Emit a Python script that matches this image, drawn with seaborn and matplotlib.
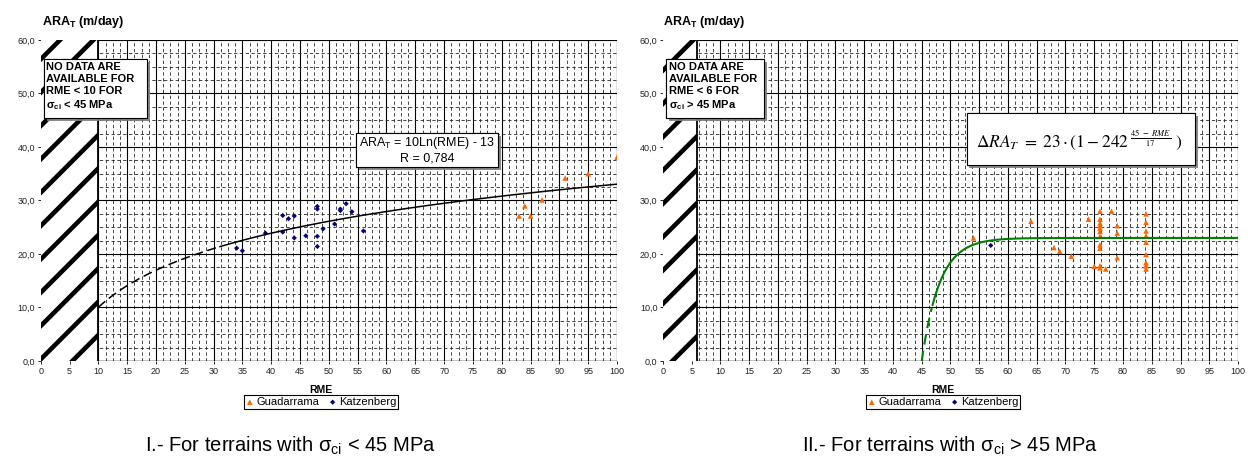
import numpy as np
import pandas as pd
import seaborn as sns
import matplotlib.pyplot as plt
import matplotlib.patheffects as pe
from matplotlib.patches import Rectangle
from matplotlib.ticker import MultipleLocator, FuncFormatter

# chart I (sigma_ci < 45 MPa)
gua1_rme = [83, 84, 85, 87, 91, 95, 100]
gua1_ara = [27.1, 29.0, 27.1, 30.1, 34.2, 35.0, 38.1]
katz1_rme = [34, 35, 39, 42, 42, 43, 44, 44, 46, 48, 48, 48, 48, 49, 51, 52, 52, 53, 54, 56]
katz1_ara = [21.1, 20.6, 23.9, 27.2, 24.1, 26.6, 27.1, 23.0, 23.4, 28.9,
             28.4, 23.3, 21.4, 24.7, 25.6, 28.4, 28.1, 29.4, 27.9, 24.3]

# chart II (sigma_ci > 45 MPa)
gua2_rme = [54, 64, 68, 69, 71, 74, 75,
            76, 76, 76, 76, 76, 76, 76, 76, 76, 76, 76,
            77, 78, 79, 79, 79,
            84, 84, 84, 84, 84, 84, 84, 84, 84]
gua2_ara = [23.0, 26.1, 21.2, 20.5, 19.6, 26.5, 17.7,
            28.0, 26.5, 25.8, 25.3, 24.8, 24.2, 23.3, 21.7, 21.1, 17.8, 17.4,
            17.2, 28.0, 25.3, 23.9, 19.3,
            27.5, 25.9, 24.3, 23.4, 22.2, 19.9, 18.4, 17.8, 17.2]
katz2_rme = [57]
katz2_ara = [21.6]

ORANGE = '#FF6600'
NAVY = '#000080'

sns.set_theme(style='white')
plt.rcParams['font.family'] = ['Liberation Sans', 'DejaVu Sans']
plt.rcParams['text.color'] = 'black'
plt.rcParams['mathtext.fontset'] = 'custom'
plt.rcParams['mathtext.rm'] = 'Liberation Sans'
plt.rcParams['mathtext.it'] = 'Liberation Sans:italic'
plt.rcParams['mathtext.bf'] = 'Liberation Sans:bold'
plt.rcParams['hatch.linewidth'] = 3.3

fig = plt.figure(figsize=(12.48, 4.59), dpi=100)
ax1 = fig.add_axes([0.0326, 0.2135, 0.4618, 0.6994])
ax2 = fig.add_axes([0.5312, 0.2135, 0.4608, 0.6994])

shadow = [pe.withSimplePatchShadow(offset=(2, -2), shadow_rgbFace='0.5', alpha=0.9), pe.Normal()]


def setup(ax, x_start):
    ax.set_xlim(0, 100)
    ax.set_ylim(0, 60)
    ax.xaxis.set_major_locator(MultipleLocator(5))
    ax.xaxis.set_minor_locator(MultipleLocator(1.25))
    ax.yaxis.set_major_locator(MultipleLocator(10))
    ax.yaxis.set_minor_locator(MultipleLocator(2.5))
    ax.yaxis.set_major_formatter(FuncFormatter(lambda v, p: f'{v:.1f}'.replace('.', ',')))
    ax.set_axisbelow(True)
    ax.grid(which='major', color='black', lw=0.8)
    ax.grid(which='minor', color='0.15', lw=0.6, ls=(0, (4, 3)))
    ax.tick_params(which='major', length=2, width=0.6, labelsize=6.5, pad=2,
                   color='black', labelcolor='#222222', bottom=True, left=True)
    ax.tick_params(which='minor', length=0)
    for s in ax.spines.values():
        s.set_visible(False)
    ax.axvspan(0, x_start, facecolor='white', edgecolor='black', hatch='/', lw=0, zorder=2)
    ax.axvline(x_start, color='black', lw=1.3, zorder=2.5)
    ax.axhline(0, xmin=x_start / 100, color='black', lw=1.0, zorder=2.5)
    ax.axvline(100, color='black', lw=0.8, zorder=2.5)
    ax.set_xlabel('')
    ax.set_ylabel('')


def note_box(ax, x0, y0, w, h):
    r = Rectangle((x0, y0), w, h, facecolor='white', edgecolor='black', lw=0.8, zorder=5)
    r.set_path_effects(shadow)
    ax.add_patch(r)


def scatter(ax, gx, gy, kx, ky):
    sns.scatterplot(x=gx, y=gy, ax=ax, marker='^', color=ORANGE, s=16,
                    edgecolor='none', zorder=3, label='Guadarrama')
    sns.scatterplot(x=kx, y=ky, ax=ax, marker='D', color=NAVY, s=7,
                    edgecolor='none', zorder=3, label='Katzenberg')


# ---- chart I
setup(ax1, 10)
scatter(ax1, gua1_rme, gua1_ara, katz1_rme, katz1_ara)
x_fit = np.linspace(10, 100, 300)
y_fit = 10 * np.log(x_fit) - 13
dash = x_fit <= 31
sns.lineplot(x=x_fit[dash], y=y_fit[dash], ax=ax1, color='black', lw=1.1,
             linestyle=(0, (6, 3)), zorder=3, legend=False)
sns.lineplot(x=x_fit[x_fit >= 31], y=y_fit[x_fit >= 31], ax=ax1, color='black',
             lw=1.1, zorder=3, legend=False)

note_box(ax1, 0.6, 45.4, 17.8, 11.0)
ax1.text(1.0, 55.9, 'NO DATA ARE\nAVAILABLE FOR\nRME < 10 FOR\nσ$_{\\mathbf{ci}}$ < 45 MPa',
         fontsize=8, fontweight='bold', va='top', ha='left', linespacing=1.25, zorder=6)
note_box(ax1, 54.7, 36.3, 24.7, 6.3)
ax1.text(67.05, 39.45, 'ARA$_\\mathrm{T}$ = 10Ln(RME) - 13\nR = 0,784', fontsize=9,
         ha='center', va='center', linespacing=1.15, zorder=6)

# ---- chart II
setup(ax2, 6)
scatter(ax2, gua2_rme, gua2_ara, katz2_rme, katz2_ara)
x_exp = np.linspace(45, 100, 500)
y_exp = 23 * (1 - 242 ** ((45 - x_exp) / 17))
dash2 = x_exp <= 46.8
sns.lineplot(x=x_exp[dash2], y=y_exp[dash2], ax=ax2, color='#008000', lw=1.5,
             linestyle=(0, (5, 3)), zorder=3, legend=False)
sns.lineplot(x=x_exp[x_exp >= 46.8], y=y_exp[x_exp >= 46.8], ax=ax2, color='#008000',
             lw=1.5, zorder=3, legend=False)

note_box(ax2, 0.6, 45.4, 17.0, 11.0)
ax2.text(1.0, 55.9, 'NO DATA ARE\nAVAILABLE FOR\nRME < 6 FOR\nσ$_{\\mathbf{ci}}$ > 45 MPa',
         fontsize=8, fontweight='bold', va='top', ha='left', linespacing=1.25, zorder=6)
note_box(ax2, 52.8, 36.6, 39.7, 9.7)
ax2.text(72.4, 41.2, r'$\Delta RA_T\ =\ 23\cdot(1-242^{\ \frac{45\ -\ RME}{17}}\ )$',
         fontsize=12.5, ha='center', va='center', math_fontfamily='stix', zorder=6)

# ---- labels, legends, captions
for ax, xl, lx, cx, cap in [
    (ax1, 0.0334, 0.2572, 0.233, 'I.- For terrains with σ$_{\\mathrm{ci}}$ < 45 MPa'),
    (ax2, 0.5312, 0.7556, 0.761, 'II.- For terrains with σ$_{\\mathrm{ci}}$ > 45 MPa'),
]:
    fig.text(xl, 0.9527, r'ARA$_\mathbf{T}$ (m/day)', fontsize=9, fontweight='bold',
             va='center', ha='left')
    fig.text(lx, 0.1503, 'RME', fontsize=7.5, fontweight='bold', ha='center', va='center')
    handles, labels = ax.get_legend_handles_labels()
    leg = ax.legend(handles, labels, loc='center', bbox_to_anchor=(lx, 0.124),
                    bbox_transform=fig.transFigure, ncol=2, fontsize=8, frameon=True,
                    fancybox=False, edgecolor='black', framealpha=1, handletextpad=0.2,
                    columnspacing=0.8, borderpad=0.15, handlelength=0.8, borderaxespad=0)
    leg.get_frame().set_linewidth(0.8)
    fig.text(cx, 0.028, cap, fontsize=14.5, ha='center', va='center')

fig.savefig('out.png', dpi=100)
